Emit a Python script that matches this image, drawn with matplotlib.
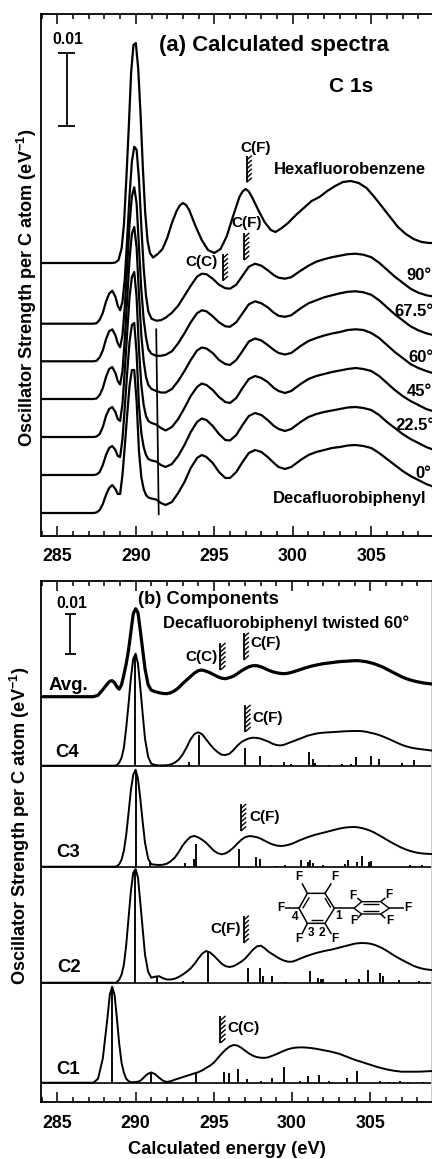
import matplotlib
matplotlib.use("Agg")
import matplotlib.pyplot as plt
from matplotlib.lines import Line2D
from matplotlib.ticker import MultipleLocator
from matplotlib.transforms import Affine2D

W, H = 432, 1159
plt.rcParams['font.family'] = ['Liberation Sans', 'DejaVu Sans']
plt.rcParams['font.weight'] = 'bold'
plt.rcParams['mathtext.fontset'] = 'custom'
plt.rcParams['mathtext.rm'] = 'Liberation Sans:bold'
plt.rcParams['mathtext.bf'] = 'Liberation Sans:bold'
plt.rcParams['mathtext.it'] = 'Liberation Sans:bold'

# ---------------- panel (a) data: height above each curve's own baseline (0.01 = 72.7 units)
E_low = [284, 287.3, 287.5, 287.7, 287.9, 288.1, 288.3, 288.5, 288.7, 288.85, 289.0, 289.15, 289.3, 289.45,
         289.6, 289.75, 289.9, 290.05, 290.2, 290.35, 290.5, 290.65, 290.8, 291.0, 291.3, 291.6, 291.9]
E_high = [292.3, 292.7, 293.1, 293.5, 293.9, 294.2, 294.5, 294.9, 295.3, 295.7, 296.0, 296.4, 296.8, 297.2,
          297.6, 298.0, 298.4, 298.8, 299.1, 299.5, 299.9, 300.5, 301, 301.5, 302, 302.5, 303, 303.5, 304,
          304.5, 305, 305.5, 306, 306.5, 307, 307.5, 308, 308.5, 309]
energy_a = E_low + E_high

deg0 = [0, 0, .5, 3, 9, 18, 25, 28, 24, 19, 19, 38, 67, 98, 127, 143, 143, 112, 62, 36, 24, 18, 15.5, 14.5, 13.5, 10, 8,
        11, 20, 31, 45, 55, 58, 56, 50, 41, 35, 35, 41, 51, 60, 63, 61, 56, 50, 46, 44, 46, 53, 58, 61, 63, 65, 66,
        67.5, 68, 67, 65, 60, 54, 48, 42, 37, 33, 29, 26]
deg22 = [0, 0, .5, 3, 10, 20, 27, 29, 25, 19, 18, 36, 68, 102, 133, 150, 152, 122, 70, 42, 28, 20, 16, 14.5, 13.5, 10, 8,
         11, 19, 30, 43, 53, 56.5, 55, 49, 41, 35, 34.5, 40, 50, 59, 62, 60, 55, 49, 46, 44, 46, 53, 58, 61, 63, 64.5,
         66, 67.5, 68, 67, 65, 60, 53, 47, 41, 36, 32, 28, 25]
deg45 = [0, 0, .5, 3, 10, 21, 28, 30, 25, 18, 16, 33, 67, 104, 140, 160, 165, 140, 88, 52, 32, 21, 16, 14, 12.5, 9, 6.5,
         10, 18, 29, 41, 50, 53.5, 52, 47, 40, 35, 34, 39, 49, 58, 61, 59, 55, 49, 46, 44, 46, 53, 58, 61, 63, 65,
         66.5, 68, 69, 68, 66, 61, 54, 47, 41, 36, 32, 28, 25.5]
deg60 = [0, 0, .5, 4, 11, 22, 30, 32, 26, 18, 14.5, 28, 60, 100, 140, 165, 172, 152, 105, 64, 38, 22, 14, 10, 8, 6.5, 6.5,
         10, 18, 28, 39, 48.5, 51.5, 50.5, 46, 39, 35, 34, 39, 48, 57.5, 60.5, 58.5, 54, 49, 46, 44.5, 46, 53, 58, 61,
         63.5, 65.5, 67, 69, 69.7, 69, 66, 61, 54, 47, 41, 35, 31, 28, 25.5]
deg67 = [0, 0, .5, 4, 11, 22, 30, 32, 26, 18, 14, 26, 55, 95, 137, 165, 174, 158, 115, 72, 42, 24, 12, 7.5, 5.5, 5.5, 6.5,
         10, 18, 28, 39, 48, 51, 50, 45, 39, 35, 34.5, 39, 48, 57, 60, 58, 54, 48.5, 45.5, 44.5, 46, 53, 58, 61, 64, 66,
         68, 69.5, 70, 69, 66.5, 61, 54, 47, 41, 35, 31, 28, 26]
deg90 = [0, 0, .5, 4, 11, 22, 30, 33, 27, 18, 13.5, 22, 45, 85, 128, 162, 177, 174, 145, 98, 56, 28, 12, 5, 3, 3.5, 6,
         11, 18, 28, 38, 47, 50, 49.5, 45, 39, 35.5, 35, 39, 48, 57, 60, 58, 53.5, 48.5, 46, 45, 46.5, 53, 58, 62, 64.5,
         66.5, 68, 69.5, 70, 69, 66.5, 61, 54, 47, 41, 35, 31, 28.5, 27]
energy_hexa = [284, 288.5, 288.7, 288.9, 289.1, 289.25, 289.4, 289.55, 289.7, 289.85, 290.0, 290.15, 290.3, 290.45, 290.6,
               290.75, 290.9, 291.1, 291.4, 291.7, 292.0, 292.3, 292.6, 292.8, 293.0, 293.2, 293.4, 293.8, 294.2, 294.6,
               295.0, 295.4, 295.8, 296.2, 296.6, 296.8, 297, 297.2, 297.4, 297.8, 298.2, 298.6, 298.9, 299.3, 299.7,
               300.2, 300.7, 301.2, 301.7, 302.2, 302.7, 303.2, 303.7, 304.2, 304.7, 305.2, 305.7, 306.2, 306.7, 307.2,
               307.7, 308.2, 308.7, 309]
hexa = [0, 0, .5, 3, 15, 40, 85, 135, 190, 218, 220, 195, 150, 95, 50, 22, 10, 5.5, 9, 14, 25, 40, 52, 57.5, 60, 58, 53,
        37, 23, 13, 10, 14, 27, 47, 66, 71.5, 74, 71.5, 66, 53, 41, 33, 31, 35, 40, 48, 55, 62, 66, 72, 77, 81, 82, 80,
        75, 66, 56, 46, 36, 29, 24, 21, 20, 20]
offsets_a = [272.7, 212, 174.4, 136.7, 98.7, 60.7, 22.7]
curves_a = [(energy_hexa, hexa), (energy_a, deg90), (energy_a, deg67), (energy_a, deg60),
            (energy_a, deg45), (energy_a, deg22), (energy_a, deg0)]
thresholds_a = [(297.06, 353.4, 380), (296.9, 275.7, 302.7), (295.54, 255, 281.7)]

# ---------------- panel (b) data
E_b = [284, 287.3, 287.6, 287.9, 288.2, 288.35, 288.5, 288.65, 288.8, 288.95, 289.1, 289.25, 289.4, 289.55, 289.7, 289.85,
       290, 290.15, 290.3, 290.45, 290.6, 290.8, 291,
       291.25, 291.5, 291.75, 292, 292.25, 292.5, 292.75, 293, 293.25, 293.5, 293.75, 294, 294.25, 294.5, 294.75,
       295, 295.25, 295.5, 295.75, 296, 296.25, 296.5, 296.75, 297, 297.25, 297.5, 297.75, 298, 298.25, 298.5, 298.75,
       299, 299.25, 299.5, 299.75, 300, 300.25, 300.5, 300.75, 301, 301.25, 301.5, 301.75, 302, 302.25, 302.5, 302.75,
       303, 303.25, 303.5, 303.75, 304, 304.25, 304.5, 304.75, 305, 305.25, 305.5, 305.75, 306, 306.25, 306.5, 306.75,
       307, 307.25, 307.5, 307.75, 308, 308.25, 308.5, 308.75, 309]
avg = [0, 0, 1.5, 7, 13, 15.5, 16, 14, 10, 7.5, 12, 22, 33, 47, 65, 83, 88, 84, 66, 47, 28, 12, 6.5,
       5, 4, 3.2, 3, 4, 6, 9, 13, 16.5, 20, 23.5, 26, 26.7, 25.5, 24,
       22, 20, 18.5, 18, 19, 20.5, 23, 25.7, 28, 30, 31, 31, 30, 28.3, 26.5, 25,
       24, 23.3, 23, 23.5, 24.5, 25.7, 27, 28.3, 29.5, 30.6, 31.5, 32.3, 33, 33.5, 34, 34.5,
       35, 35.3, 35.5, 35.8, 36, 36, 35.5, 35, 34, 33, 31.5, 30, 28, 26, 24, 22,
       20, 18.4, 17, 15.9, 15, 14.2, 13.5, 13, 12.7]
c4 = [0, 0, 0, 0, 0, 0, 0, 0, .5, 3, 8, 18, 38, 62, 88, 107, 112, 102, 78, 52, 27, 9, 2,
      .7, .3, .3, .5, 1.2, 3, 6, 11, 18, 26, 31.5, 33.5, 31.5, 26.5, 21.5,
      17, 13.5, 11, 10.7, 12, 15.5, 20, 23.5, 25.7, 27.3, 28, 27.8, 27, 25.5, 24, 22,
      20.7, 20.2, 21, 22.5, 24, 25.5, 27, 28.5, 30, 31, 32, 32.6, 33, 33.3, 33.5, 33.8,
      34, 34.3, 34.5, 34.6, 34.7, 34.7, 34.5, 33.9, 33, 32.1, 31, 29.6, 28, 26.3, 24.5, 22.7,
      21, 19.6, 18.5, 17.6, 17, 16.5, 16, 15.5, 15]
c3 = [0, 0, 0, 0, 0, 0, 0, 0, .5, 2.5, 7, 16, 32, 54, 77, 92, 97, 88, 68, 45, 24, 8, 2.5,
      2, 1.7, 2, 3, 5.5, 9, 14.5, 21, 26, 29.7, 30.8, 29.3, 27, 24, 20,
      16, 13.5, 12.4, 13.3, 15.7, 19, 23, 26.8, 29.5, 30.6, 30.3, 29.5, 28, 26, 24, 22.3,
      21.2, 20.7, 21, 21.8, 23, 24.7, 26.5, 28, 29.5, 30.8, 32, 33, 34, 35, 36, 37,
      38, 38.8, 39.3, 39.6, 39.7, 39.3, 38.5, 37.4, 36, 34.2, 32, 29.8, 27.5, 25.2, 23, 21,
      19, 17.4, 16, 14.9, 14, 13.4, 13, 12.8, 12.7]
c2 = [0, 0, 0, 0, 0, 0, 0, 0, .5, 3, 8, 18, 38, 65, 92, 110, 113.7, 105, 80, 54, 28, 11, 5,
      6, 6.5, 4.5, 3.2, 3.2, 4, 5.7, 8, 10.8, 14, 18.5, 24, 29, 31.7, 30.3,
      27, 23, 19, 16.5, 15.7, 16.5, 18.5, 21, 24, 28.5, 33, 36.3, 37, 34.5, 31, 28.5,
      26, 23.7, 22, 21, 21, 22.3, 24, 25.5, 27, 28.3, 29.5, 30.5, 31.5, 32.3, 33, 34,
      35, 36, 37, 38, 39, 39.5, 39.7, 39.5, 39, 38, 36.5, 34.7, 32.5, 30, 27.5, 25.2,
      23, 21, 19, 17, 15.5, 14.4, 13.5, 13, 12.5]
c1 = [0, 0, 4, 24, 65, 88, 96, 88, 65, 39, 20, 10, 4, 1.5, .5, .5, .8, 1, 2, 4, 6.5, 9, 10.3,
      8.5, 5, 2, .7, 1.5, 3, 4.2, 5.5, 6.8, 8, 9.3, 10.5, 12.3, 14.7, 17,
      20, 24.5, 29, 33, 36, 37.7, 37.2, 35, 32, 29.2, 27, 25.6, 25, 24.8, 25.5, 27,
      28.5, 30.3, 32, 33.5, 34.5, 35.1, 35.3, 35.3, 35, 34.6, 34, 33.3, 32.5, 31.8, 31, 30,
      29, 27.5, 26, 24.5, 23, 21.7, 20.5, 19.2, 18, 16.7, 15.5, 14.5, 13.5, 12.7, 12, 11.5,
      11, 11, 11, 11, 11, 11.1, 11.3, 11.5, 11.7]
offsets_b = [405.6, 336.6, 235.6, 119.6, 19.6]

c4_stick_e = [289.96, 293.44, 294.04, 297.02, 297.95, 298.66, 299.51, 299.93, 301.1, 301.36, 301.49, 302.34, 303.21, 303.74,
              304.12, 305.02, 305.53, 307.02, 307.83]
c4_stick_h = [109, 3.3, 30.7, 18, 9.7, .7, 3.3, 1.7, 13.3, 7, 3, 1, 1.7, 1.7, 8.3, 10, 7, 2.3, 5.3]
c3_stick_e = [290.0, 290.95, 293.17, 293.76, 293.85, 296.64, 297.72, 297.95, 299, 299.57, 300.59, 301, 301.12, 301.34, 302,
              303.4, 303.55, 304.15, 304.47, 304.89, 305.04, 307.55, 307.89, 308.3]
c3_stick_h = [95, 4, 3.3, 8, 22.3, 18, 9.7, 8, 1, 2, 6.3, 5, 6.7, 3.7, 1.7, 2.3, 6.3, 4.7, 10.3, 4.7, 5.7, 2, 1, 2]
c2_stick_e = [289.98, 291.38, 293.04, 294.63, 297.17, 297.93, 298.15, 298.74, 299.57, 301.12, 301.64, 301.87, 301.98, 303.47,
              304.3, 304.85, 305.61, 305.83, 306.87, 308.12, 308.6]
c2_stick_h = [113, 6.3, 1.7, 30.7, 15, 15, 6.3, 6.3, .7, 11.3, 5, 3.3, 3.3, 3.7, 3.7, 13, 9.7, 6.3, 3, 1.3, 1]
c1_stick_e = [288.49, 291.0, 293.89, 295.68, 295.98, 296.55, 297.12, 298.04, 298.72, 299.51, 300.53, 301.04, 301.72, 302.34,
              302.55, 303.49, 304.15, 305.64, 306.17, 306.49, 306.91, 307.4, 308.4]
c1_stick_h = [95, 10, 10, 10.7, 10, 13.3, 4, 1.3, 4.3, 16, 2, 6.3, 8, 2, 1, 4.7, 11.3, 2, 1, 1, 1.3, .7, .7]
thresholds_b = [(295.42, 432.3, 459.3), (296.91, 442.3, 469.6), (297.02, 370.6, 397.3),
                (296.74, 271.3, 298.3), (296.91, 159.3, 186.6), (295.42, 59.3, 86.3)]
ticks_major = [285, 290, 295, 300, 305]
ylabel = r"Oscillator Strength per C atom (eV$^{\mathbf{-1}}$)"

# ---------------- layout
fig = plt.figure(figsize=(W / 100, H / 100), dpi=100, facecolor='white')
px = Affine2D().scale(1 / W, -1 / H).translate(0, 1) + fig.transFigure


def txt(x, y, s, size, ha='center', **kw):
    fig.text(x, y, s, transform=px, fontsize=size, ha=ha, va='center', fontweight='bold', color='black', **kw)


def seg(xs, ys, lw=1.2, color='black'):
    fig.add_artist(Line2D(xs, ys, transform=px, lw=lw, color=color, solid_capstyle='butt'))


def make_axes(top, bottom, x0, x1):
    ax = fig.add_axes([41 / W, 1 - bottom / H, (W - 41) / W, (bottom - top) / H])
    ax.set_xlim(x0, x1)
    ax.set_ylim(0, bottom - top)
    ax.set_yticks([])
    ax.set_xticks(ticks_major)
    ax.xaxis.set_minor_locator(MultipleLocator(1))
    ax.tick_params(axis='x', which='major', direction='in', top=True, bottom=True, length=7.4, width=1.1,
                   labelsize=12.8, pad=9)
    ax.tick_params(axis='x', which='minor', direction='in', top=True, bottom=True, length=3.8, width=1.1)
    for s in ax.spines.values():
        s.set_linewidth(1.3)
    ax.patch.set_alpha(0)
    return ax


def threshold(ax, e, y0, y1):
    ax.plot([e, e], [y0, y1], color='black', lw=1.3, solid_capstyle='butt', zorder=4)
    n = 6
    for i in range(n):
        y = y0 + (y1 - y0) * i / n
        ax.plot([e, e + 0.33], [y, y + 4.6], color='black', lw=1.0, solid_capstyle='butt', zorder=4)


ax_a = make_axes(14, 535.7, 283.96, 308.87)
ax_a.spines['right'].set_visible(False)
for (e, h), off in zip(curves_a, offsets_a):
    ax_a.plot(e, [v + off for v in h], color='black', lw=1.6, solid_joinstyle='round', zorder=3)
ax_a.plot([291.3, 291.46], [206.4, 21.4], color='black', lw=1.25, zorder=4)   # pointer line
for e, y0, y1 in thresholds_a:
    threshold(ax_a, e, y0, y1)

ax_b = make_axes(581, 1102.3, 283.95, 308.95)
ax_b.spines['right'].set_color('#c8c8c8')
for off in offsets_b[1:]:
    ax_b.axhline(off, color='black', lw=1.2, zorder=2)
line_w = [2.3, 1.4, 1.4, 1.4, 1.4]
for h, off, lw in zip([avg, c4, c3, c2, c1], offsets_b, line_w):
    ax_b.plot(E_b, [v + off for v in h], color='black', lw=lw, solid_joinstyle='round', zorder=3)
for es, hs, off in zip([c4_stick_e, c3_stick_e, c2_stick_e, c1_stick_e],
                       [c4_stick_h, c3_stick_h, c2_stick_h, c1_stick_h], offsets_b[1:]):
    ax_b.vlines(es, off, [v + off for v in hs], color='black', lw=1.35, zorder=3)
for e, y0, y1 in thresholds_b:
    threshold(ax_b, e, y0, y1)

# scale bars
for x, y0, y1, cap in [(66.7, 53.3, 126, 8.3), (70.3, 614, 654.3, 5.3)]:
    seg([x, x], [y0, y1], lw=1.3)
    seg([x - cap, x + cap], [y0, y0], lw=1.3)
    seg([x - cap, x + cap], [y1, y1], lw=1.3)

# panel (a) text
txt(26.5, 288, ylabel, 13.1, rotation=90)
txt(68, 40, "0.01", 11.3)
txt(274, 45.7, "(a) Calculated spectra", 15.9)
txt(350.7, 86, "C 1s", 15)
txt(350, 170, "Hexafluorobenzene", 11.9)
txt(350, 499, "Decafluorobiphenyl", 11.9)
txt(256, 147.7, "C(F)", 11)
txt(246.7, 222.7, "C(F)", 11)
txt(202, 262.3, "C(C)", 11)
for x, y, s in [(406, 276, "90°"), (394.7, 311, "67.5°"), (408, 357, "60°"), (407, 392, "45°"),
                (395, 425, "22.5°"), (415, 473, "0°")]:
    txt(x, y, s, 12, ha='left')

# panel (b) text
txt(20, 826, ylabel, 13.1, rotation=90)
txt(72, 604, "0.01", 11.3)
txt(208, 599, "(b) Components", 13.2)
txt(286.5, 623, "Decafluorobiphenyl twisted 60°", 12)
txt(201, 656.7, "C(C)", 11)
txt(266, 643, "C(F)", 11)
txt(68, 685, "Avg.", 13.5)
txt(66.7, 752.7, "C4", 13.3)
txt(267.7, 718, "C(F)", 11)
txt(68, 852.7, "C3", 13.3)
txt(265, 817, "C(F)", 11)
txt(69, 968, "C2", 13.3)
txt(225.7, 928.7, "C(F)", 11)
txt(67.7, 1069, "C1", 13.3)
txt(243.3, 1027.7, "C(C)", 11)
txt(227, 1149, "Calculated energy (eV)", 13.2)

# molecule (zoomed coordinates, divided by 3, y offset 870)
def mol(pts, lw=1.1):
    seg([p[0] / 3 for p in pts], [870 + p[1] / 3 for p in pts], lw=lw)


mol([(922, 70), (975, 70), (1003, 115), (975, 160), (922, 160), (897, 115), (922, 70)])
mol([(975, 84), (992, 113)], 1.0)
mol([(932, 150), (968, 150)], 1.0)
mol([(908, 115), (928, 82)], 1.0)
for a, b in [((922, 70), (906, 40)), ((975, 70), (994, 40)), ((897, 115), (856, 115)), ((922, 160), (906, 192)),
             ((975, 160), (994, 192)), ((1003, 115), (1062, 115))]:
    mol([a, b])
mol([(1062, 115), (1085, 95), (1142, 95), (1168, 115), (1142, 132), (1085, 132), (1062, 115)], 1.0)
mol([(1090, 103), (1138, 103)], 1.0)
mol([(1090, 124), (1138, 124)], 1.0)
for a, b in [((1085, 95), (1072, 84)), ((1142, 95), (1156, 84)), ((1168, 115), (1212, 115)),
             ((1142, 132), (1156, 145)), ((1085, 132), (1072, 145))]:
    mol([a, b])
for x, y, s in [(897, 20, "F"), (1005, 20, "F"), (842, 115, "F"), (897, 208, "F"), (1005, 208, "F"),
                (1060, 77, "F"), (1168, 75, "F"), (1225, 115, "F"), (1170, 152, "F"), (1062, 153, "F"),
                (885, 142, "4"), (1017, 138, "1"), (934, 188, "3"), (967, 188, "2")]:
    txt(x / 3, 870 + y / 3, s, 8.6)

fig.savefig("out.png", dpi=100)
